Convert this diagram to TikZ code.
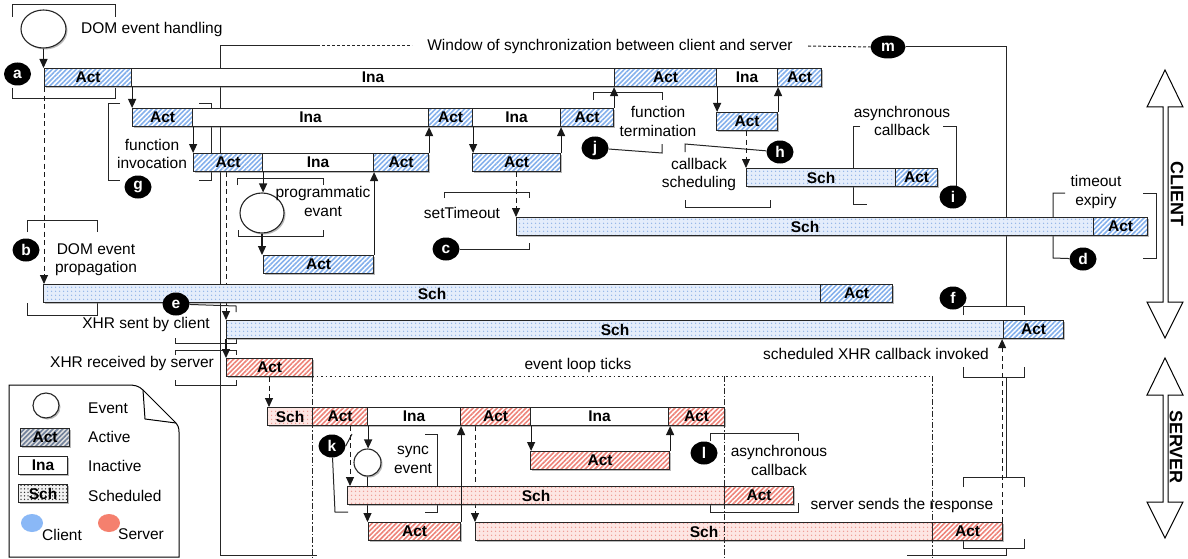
\documentclass[tikz,border=0pt]{standalone}
\usepackage{fontspec}
\setmainfont{Liberation Sans}
\usetikzlibrary{arrows.meta,patterns.meta,shadows,shapes.geometric}
\newcommand\fs{\fontsize{15.5}{18.5}\selectfont}
\definecolor{cbl}{HTML}{84B0EC}
\definecolor{cbg}{HTML}{E4EDFB}
\definecolor{cdot}{HTML}{8FB3E8}
\definecolor{srl}{HTML}{EE8379}
\definecolor{sbg}{HTML}{FDE6E3}
\definecolor{sdot}{HTML}{EE9890}
\definecolor{legblue}{HTML}{8AB8F6}
\definecolor{legred}{HTML}{F5806E}
\definecolor{leggray}{HTML}{6F7F99}
\pgfdeclarelayer{back}
\pgfdeclarelayer{bg}
\pgfsetlayers{back,bg,main}
\newcommand\mybar[6]{\node[#2, minimum width={(#4-#3)*1pt}] (#1) at (#3,#5) {#6};}
\tikzset{
  barbox/.style={draw=black!85, line width=1.1pt, minimum height=18pt, inner sep=0pt,
    anchor=north west, font=\bfseries\fs,
    drop shadow={shadow xshift=1.5pt,shadow yshift=-1.5pt,opacity=0.45,fill=black!60}},
  actC/.style={barbox, preaction={fill=white},
    preaction={pattern={Lines[angle=45,distance=3.4pt,line width=1.6pt]}, pattern color=cbl}},
  actS/.style={barbox, preaction={fill=white},
    preaction={pattern={Lines[angle=45,distance=3.4pt,line width=1.6pt]}, pattern color=srl}},
  schC/.style={barbox, preaction={fill=cbg},
    preaction={pattern={Dots[distance=4pt,radius=0.85pt]}, pattern color=cdot}},
  schS/.style={barbox, preaction={fill=sbg},
    preaction={pattern={Dots[distance=4pt,radius=0.85pt]}, pattern color=sdot}},
  ina/.style={barbox, fill=white},
  legact/.style={barbox, preaction={fill=black!12},
    preaction={pattern={Lines[angle=45,distance=3.4pt,line width=1.6pt]}, pattern color=leggray}},
  legsch/.style={barbox, preaction={fill=black!5},
    preaction={pattern={Dots[distance=3.5pt,radius=0.75pt]}, pattern color=black!80}},
  evt/.style={ellipse, draw=black!85, line width=1.1pt, fill=white, inner sep=0pt,
    drop shadow={shadow xshift=1.5pt,shadow yshift=-1.5pt,opacity=0.45,fill=black!60}},
  lbl/.style={ellipse, fill=black, text=white, font=\bfseries\fs, minimum width=27pt,
    minimum height=23pt, inner sep=0pt},
  txt/.style={font=\fs, inner sep=0pt, align=center},
  arr/.style={-{Triangle[length=9pt,width=8pt]}, line width=1.2pt, black!90},
  darr/.style={-{Triangle[length=9pt,width=8pt]}, line width=0.9pt, black!90, dash pattern=on 5pt off 3.5pt},
  brk/.style={line width=1pt, black!85},
  dd/.style={line width=0.9pt, black!85, dash pattern=on 6pt off 2pt on 1.5pt off 2pt},
}
\begin{document}
\begin{tikzpicture}[x=1pt,y=-1pt]
\useasboundingbox (0,0) rectangle (1188,559);
\begin{pgfonlayer}{back}
\fill[white] (0,0) rectangle (1188,559);
\end{pgfonlayer}

% ---------- client bars ----------
\mybar{r1a}{actC}{44}{131}{68}{Act}
\mybar{r1b}{ina}{131}{614}{68}{Ina}
\mybar{r1c}{actC}{614}{716}{68}{Act}
\mybar{r1d}{ina}{716}{777}{68}{Ina}
\mybar{r1e}{actC}{777}{821}{68}{Act}
\mybar{r2a}{actC}{132}{192}{108}{Act}
\mybar{r2b}{ina}{192}{428}{108}{Ina}
\mybar{r2c}{actC}{428}{472}{108}{Act}
\mybar{r2d}{ina}{472}{560}{108}{Ina}
\mybar{r2e}{actC}{560}{613}{108}{Act}
\mybar{r1f}{actC}{716}{777}{112}{Act}
\mybar{r3a}{actC}{193}{262}{153}{Act}
\mybar{r3b}{ina}{262}{373}{153}{Ina}
\mybar{r3c}{actC}{373}{428}{153}{Act}
\mybar{r3d}{actC}{472}{560}{153}{Act}
\mybar{rh1}{schC}{746}{895}{168}{Sch}
\mybar{rh2}{actC}{895}{937}{168}{Act}
\mybar{rc1}{schC}{516}{1093}{217}{Sch}
\mybar{rc2}{actC}{1093}{1147}{217}{Act}
\mybar{rp}{actC}{263}{373}{255}{Act}
\mybar{rb1}{schC}{43}{820}{284}{Sch}
\mybar{rb2}{actC}{820}{892}{284}{Act}
\mybar{rx1}{schC}{226}{1003}{320}{Sch}
\mybar{rx2}{actC}{1003}{1063}{320}{Act}

% ---------- server bars ----------
\mybar{sa}{actS}{226}{312}{358}{Act}
\mybar{s1a}{schS}{267}{312}{407}{Sch}
\mybar{s1b}{actS}{312}{367}{407}{Act}
\mybar{s1c}{ina}{367}{460}{407}{Ina}
\mybar{s1d}{actS}{460}{530}{407}{Act}
\mybar{s1e}{ina}{530}{668}{407}{Ina}
\mybar{s1f}{actS}{668}{724}{407}{Act}
\mybar{s4}{actS}{530}{669}{451}{Act}
\mybar{s2a}{schS}{347}{724}{486}{Sch}
\mybar{s2b}{actS}{724}{793}{486}{Act}
\mybar{s3l}{actS}{368}{460}{522}{Act}
\mybar{s3a}{schS}{475}{932}{522}{Sch}
\mybar{s3b}{actS}{932}{1002}{522}{Act}

% ---------- events ----------
\node[evt, minimum width=45pt, minimum height=38pt] (ev1) at (43.5,29) {};
\node[evt, minimum width=44pt, minimum height=40pt] (ev2) at (262,213) {};
\node[evt, minimum width=27pt, minimum height=27pt] (ev3) at (367.5,462.5) {};

% ---------- labels ----------
\node[lbl] (la) at (17.5,74) {a};
\node[lbl] (lb) at (26,250) {b};
\node[lbl] (lc) at (446,249) {c};
\node[lbl] (ld) at (1083,259) {d};
\node[lbl] (le) at (176,304) {e};
\node[lbl] (lf) at (953,298) {f};
\node[lbl] (lg) at (138,187) {g};
\node[lbl] (lh) at (780,152) {h};
\node[lbl] (li) at (953,197) {i};
\node[lbl] (lj) at (595,148) {j};
\node[lbl] (lk) at (332,446) {k};
\node[lbl] (ll) at (704,453) {l};
\node[lbl, minimum width=35pt] (lm) at (888,47) {m};

% ---------- texts ----------
\node[txt, anchor=west] (tdom) at (81,29) {DOM event handling};
\node[txt] (twin) at (610,46) {Window of synchronization between client and server};
\node[txt] (tfi) at (152,154) {function\\invocation};
\node[txt] (tpe) at (323,201.5) {programmatic\\evant};
\node[txt] (tst) at (462,213) {setTimeout};
\node[txt] (tft) at (658,121.5) {function\\termination};
\node[txt] (tcs) at (699,174.5) {callback\\scheduling};
\node[txt] (tac) at (902,121) {asynchronous\\callback};
\node[txt] (tte) at (1096,192) {timeout\\expiry};
\node[txt] (tdp) at (96,259.5) {DOM event\\propagation};
\node[txt] (txs) at (146,324) {XHR sent by client};
\node[txt] (txr) at (132,363) {XHR received by server};
\node[txt] (tel) at (578,365) {event loop ticks};
\node[txt] (tsx) at (876,354) {scheduled XHR callback invoked};
\node[txt] (tse) at (413,460) {sync\\event};
\node[txt] (tas) at (779,460.5) {asynchronous\\callback};
\node[txt] (tsr) at (902,505) {server sends the response};

% ---------- lines behind bars ----------
\begin{pgfonlayer}{bg}
% synchronization window frame
\draw[brk] (317,46) -- (220,46) -- (220,555) -- (317,555);
\draw[brk, dash pattern=on 3pt off 2pt] (317,46) -- (412,46);
\draw[brk, dash pattern=on 3pt off 2pt] (808,46) -- (lm.west);
\draw[brk] (lm.east) -- (1006,47) -- (1006,306);
\draw[brk] (1006,377) -- (1006,477);
\draw[brk] (1006,548) -- (1006,555) -- (907,555);
% brackets
\draw[brk] (12,17) -- (12,5) -- (115,5) -- (115,17);
\draw[brk] (12,88) -- (12,99) -- (115,99) -- (115,88);
\draw[brk] (120,104) -- (108,104) -- (108,180) -- (120,180);
\draw[brk] (199,104) -- (211,104) -- (211,180) -- (199,180);
\draw[brk] (237,185) -- (237,178) -- (323,178) -- (323,185);
\draw[brk] (238,230) -- (238,236) -- (323,236) -- (323,230);
\draw[brk] (444,198) -- (444,192) -- (529,192) -- (529,198);
\draw[brk] (lc) -- (529,249) -- (529,243);
\draw[brk] (593,100) -- (593,93) -- (662,93) -- (662,100);
\draw[brk] (lj) -- (662,153) -- (662,144);
\draw[brk] (lh) -- (685,144) -- (685,152);
\draw[brk] (685,200) -- (685,207) -- (770,207) -- (770,200);
\draw[brk] (860,127) -- (853,127) -- (853,204) -- (867,204);
\draw[brk] (943,127) -- (956,127) -- (956,190);
\draw[brk] (1065,193) -- (1053,193) -- (1053,258) -- (ld);
\draw[brk] (1143,193) -- (1156,193) -- (1156,258) -- (1143,258);
\draw[brk] (27,232) -- (27,220) -- (97,220) -- (97,232);
\draw[brk] (27,303) -- (27,315) -- (97,315) -- (97,303);
\draw[brk] (le) -- (236,306) -- (236,312);
\draw[brk] (175,338) -- (175,343) -- (236,343) -- (236,338);
\draw[brk] (175,355) -- (175,350) -- (236,350) -- (236,355);
\draw[brk] (175,380) -- (175,385) -- (236,385) -- (236,380);
\draw[brk] (963,315) -- (963,306) -- (1024,306) -- (1024,315);
\draw[brk] (963,367) -- (963,377) -- (1024,377) -- (1024,367);
\draw[brk] (963,487) -- (963,477) -- (1024,477) -- (1024,487);
\draw[brk] (963,539) -- (963,548) -- (1024,548) -- (1024,539);
\draw[brk] (lk.east) -- (352,434);
\draw[brk] (lk) -- (335,512) -- (348,512);
\draw[brk] (425,434) -- (437,434) -- (437,512) -- (425,512);
\draw[brk] (710,441) -- (710,433) -- (798,433) -- (798,441);
\draw[brk] (710,503) -- (710,512) -- (798,512) -- (798,503);
% connectors passing behind bars
\draw[darr] (rx1.north west |- r3a.south) -- (rx1.north west);
\draw[darr] (s3a.north west |- s1d.south) -- (s3a.north west);
\draw[arr] (ev3.south) -- (ev3.south |- s3l.north);
\end{pgfonlayer}

% ---------- connectors ----------
\draw[arr] (ev1.south) -- (ev1.south |- r1a.north);
\draw[arr] (r1a.south east) -- (r1a.south east |- r2a.north);
\draw[arr] (r2a.south east) -- (r2a.south east |- r3a.north);
\draw[arr] (r3c.north east) -- (r3c.north east |- r2c.south);
\draw[arr] (r2c.south east) -- (r2c.south east |- r3d.north);
\draw[arr] (r3d.north east) -- (r3d.north east |- r2e.south);
\draw[arr] (r2e.north east) -- (r2e.north east |- r1c.south);
\draw[arr] (r1c.south east) -- (r1c.south east |- r1f.north);
\draw[arr] (r1f.north east) -- (r1f.north east |- r1e.south);
\draw[arr] (r3a.south east) -- (r3a.south east |- ev2.north);
\draw[arr] (ev2.south) -- (ev2.south |- rp.north);
\draw[arr] (rp.north east) -- (rp.north east |- r3c.south);
\draw[arr] (rx1.south west) -- (rx1.south west |- sa.north);
\draw[arr] (s1b.south east) -- (s1b.south east |- ev3.north);
\draw[arr] (s3l.north east) -- (s3l.north east |- s1c.south);
\draw[arr] (s1d.south east) -- (s1d.south east |- s4.north);
\draw[arr] (s4.north east) -- (s4.north east |- s1e.south);
\draw[darr] (r1a.south west) -- (r1a.south west |- rb1.north);
\draw[darr] (rc1.north west |- r3d.south) -- (rc1.north west);
\draw[darr] (rh1.north west |- r1f.south) -- (rh1.north west);
\draw[darr] ([xshift=2pt]s1a.north west |- sa.south) -- ([xshift=2pt]s1a.north west);
\draw[darr] ([xshift=3pt]s2a.north west |- s1b.south) -- ([xshift=3pt]s2a.north west);
\draw[darr] ([xshift=-1pt]s3b.north east) -- ([xshift=-1pt]s3b.north east |- rx1.south);

% ---------- event loop ticks ----------
\draw[line width=1pt, black!85, dash pattern=on 1.5pt off 3pt] (312,376) -- (932,376);
\draw[dd] (312,376) -- (312,559);
\draw[dd] (724,376) -- (724,559);
\draw[dd] (932,376) -- (932,559);

% ---------- legend ----------
\draw[line width=1pt, fill=white] (9,385) -- (128,385) to[out=0,in=135] (143,390) -- (175,422)
  to[out=-45,in=90] (179,432) -- (179,557) -- (9,557) -- cycle;
\draw[line width=1pt] (143,390) -- (145,419) -- (176,423);
\node[evt, minimum width=26pt, minimum height=25pt] (lgev) at (46,405.5) {};
\mybar{lgact}{legact}{20}{69}{428}{Act}
\mybar{lgina}{ina}{18}{67}{456}{Ina}
\mybar{lgsch}{legsch}{18}{67}{484}{Sch}
\node[txt, anchor=west] (lt1) at (88,408) {Event};
\node[txt, anchor=west] (lt2) at (88,437) {Active};
\node[txt, anchor=west] (lt3) at (88,466) {Inactive};
\node[txt, anchor=west] (lt4) at (88,496) {Scheduled};
\node[ellipse, fill=legblue, minimum width=22pt, minimum height=18pt, inner sep=0pt] (lgc) at (32,523) {};
\node[ellipse, fill=legred, minimum width=22pt, minimum height=18pt, inner sep=0pt] (lgs) at (109,523) {};
\node[txt, anchor=west] (lt5) at (42,535) {Client};
\node[txt, anchor=west] (lt6) at (118,534) {Server};

% ---------- client / server arrows ----------
\draw[line width=1pt, fill=white] (1165,70) -- (1183,107) -- (1168,107) -- (1168,302) -- (1183,302)
  -- (1165,338) -- (1147,302) -- (1163,302) -- (1163,107) -- (1147,107) -- cycle;
\draw[line width=1pt, fill=white] (1165,358) -- (1183,395) -- (1168,395) -- (1168,502) -- (1183,502)
  -- (1165,538) -- (1147,502) -- (1163,502) -- (1163,395) -- (1147,395) -- cycle;
\node[rotate=-90, inner sep=0pt, font=\bfseries\fontsize{18}{20}\selectfont] (tcl) at (1177,194) {CLIENT};
\node[rotate=-90, inner sep=0pt, font=\bfseries\fontsize{18}{20}\selectfont] (tsv) at (1176,447) {SERVER};
\end{tikzpicture}
\end{document}
